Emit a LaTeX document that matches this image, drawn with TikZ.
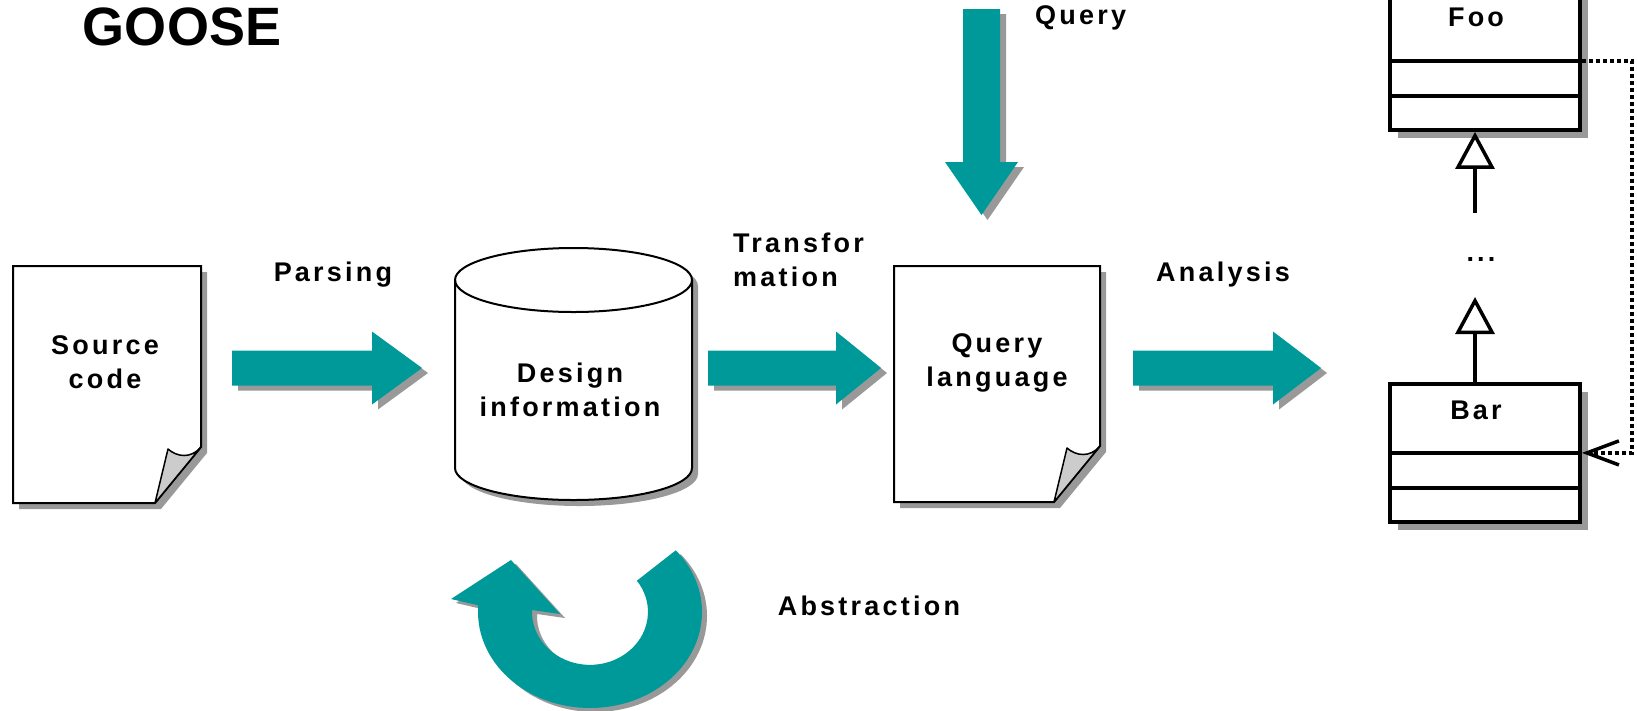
\documentclass[tikz,border=0pt]{standalone}
\usepackage{fontspec}
\setmainfont{Liberation Sans}
\newfontfamily\lbl{Liberation Sans}[LetterSpace=12]
\usetikzlibrary{arrows.meta}
\definecolor{flowteal}{RGB}{0,153,153}
\definecolor{dropgray}{RGB}{153,153,153}
\definecolor{flapgray}{RGB}{204,204,204}

% horizontal block arrow: start x, head x, tip x, centre y
\newcommand\hblock[4]{%
  \fill[dropgray,shift={(6,5)}] (#1,#4-17.5) -- (#2,#4-17.5) -- (#2,#4-36.5) -- (#3,#4)
     -- (#2,#4+36.5) -- (#2,#4+17.5) -- (#1,#4+17.5) -- cycle;
  \fill[flowteal] (#1,#4-17.5) -- (#2,#4-17.5) -- (#2,#4-36.5) -- (#3,#4)
     -- (#2,#4+36.5) -- (#2,#4+17.5) -- (#1,#4+17.5) -- cycle;}

% sheet of paper with a curled corner: left, top, right, bottom
\newcommand\docpage[4]{%
  \fill[dropgray,shift={(6,6)}] (#1,#2) -- (#3,#2) -- (#3,#4-56) -- (#3-46,#4) -- (#1,#4) -- cycle;
  \filldraw[fill=white,line width=2] (#1,#2) -- (#3,#2) -- (#3,#4-56) -- (#3-46,#4) -- (#1,#4) -- cycle;
  \filldraw[fill=flapgray,line width=1.5,line join=round] (#3,#4-56)
     .. controls (#3-10,#4-44) and (#3-24,#4-46) .. (#3-33,#4-54) -- (#3-46,#4) -- cycle;}

\begin{document}
\begin{tikzpicture}[x=1pt,y=-1pt,
  every node/.style={inner sep=0pt,font=\lbl\fontsize{27}{34}\selectfont\bfseries},
  doctext/.style={align=center},
  umlbox/.style={draw,line width=3.8,fill=white,minimum width=190pt,minimum height=138.5pt},
  inherit/.style={line width=3.5,-{Triangle[open,length=37pt,width=39pt,line width=3.5pt]}},
  dep/.style={line width=3.8,dash pattern=on 4pt off 3pt,-{Straight Barb[length=32pt,width=24pt,line width=3.5pt]}}]

\useasboundingbox (0,0) rectangle (1637,710);
\fill[white] (0,0) rectangle (1637,710);

% title
\node[font=\fontsize{54}{60}\selectfont\bfseries] (title) at (182,27) {GOOSE};

% source code sheet
\docpage{13}{266}{201}{503}
\node[doctext] (src) at (105,362) {Source\\code};

% design information store
\fill[dropgray,shift={(6,6)}] (455,280) -- (455,468)
   arc[start angle=180,end angle=0,x radius=118.5,y radius=32] -- (692,280)
   arc[start angle=0,end angle=-180,x radius=118.5,y radius=32] -- cycle;
\filldraw[fill=white,line width=2] (455,280) -- (455,468)
   arc[start angle=180,end angle=0,x radius=118.5,y radius=32] -- (692,280)
   arc[start angle=0,end angle=-180,x radius=118.5,y radius=32] -- cycle;
\draw[line width=2] (455,280) arc[start angle=180,end angle=0,x radius=118.5,y radius=32];
\node[doctext] (db) at (570,390) {Design\\information};

% query language sheet
\docpage{894}{266}{1100}{502}
\node[doctext] (qlang) at (997,363) {Query\\language};

% processing steps
\hblock{232}{372}{422}{368}
\node (parsing) at (333,275) {Parsing};
\hblock{708}{836}{881}{368}
\node[anchor=west,align=left] (transf) at (733,260) {Transfor\\mation};
\hblock{1133}{1273}{1321}{368}
\node (analysis) at (1223,275) {Analysis};

% incoming query
\fill[dropgray,shift={(6,5)}] (963,9) -- (1000,9) -- (1000,162) -- (1018,162) -- (981.5,215)
   -- (945,162) -- (963,162) -- cycle;
\fill[flowteal] (963,9) -- (1000,9) -- (1000,162) -- (1018,162) -- (981.5,215)
   -- (945,162) -- (963,162) -- cycle;
\node[anchor=west] (query) at (1035,18) {Query};

% abstraction loop
\fill[dropgray,shift={(5,4)}] (590,612) ++(-40:112 and 96)
   arc[start angle=-40,end angle=184,x radius=112,y radius=96]
   -- (451,599) -- (511,560) -- (560,614) -- (532,610)
   arc[start angle=182,end angle=-36,x radius=58,y radius=53] -- cycle;
\fill[flowteal] (590,612) ++(-40:112 and 96)
   arc[start angle=-40,end angle=184,x radius=112,y radius=96]
   -- (451,599) -- (511,560) -- (560,614) -- (532,610)
   arc[start angle=182,end angle=-36,x radius=58,y radius=53] -- cycle;
\node (abstr) at (869,606) {Abstraction};

% class hierarchy
\fill[dropgray] (1398,0) rectangle (1588,138);
\node[umlbox] (foo) at (1485,60.8) {};
\draw[line width=3.8] (1390,60.8) -- (1580,60.8) (1390,95.7) -- (1580,95.7);
\node (fooname) at (1476,17) {Foo};

\fill[dropgray] (1398,392) rectangle (1588,530);
\node[umlbox] (bar) at (1485,452.9) {};
\draw[line width=3.8] (1390,452.9) -- (1580,452.9) (1390,487.7) -- (1580,487.7);
\node (barname) at (1476,410) {Bar};

\coordinate (g1) at (1475,213);
\coordinate (g2) at (1475,297);
\node[anchor=base] (dots) at (1481,261) {...};
\draw[inherit] ([xshift=-10pt]bar.north) -- (g2);
\draw[inherit] (g1) -- ([xshift=-10pt]foo.south);
\draw[dep] (foo.east) -- ++(50,0) |- (bar.east);

\end{tikzpicture}
\end{document}
